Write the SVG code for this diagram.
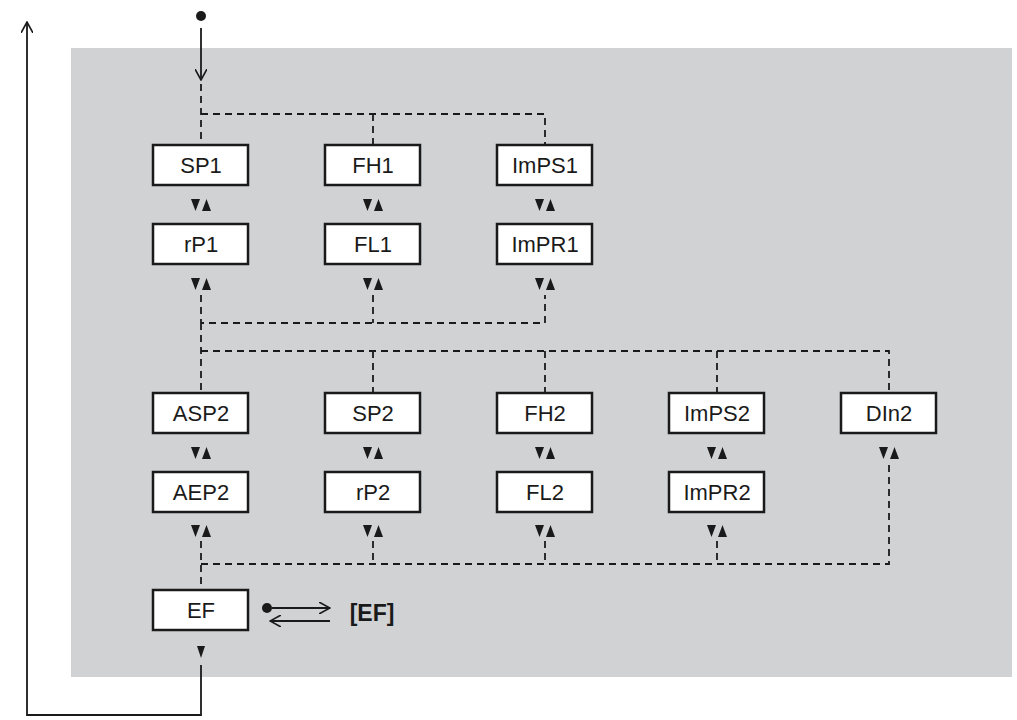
<svg xmlns="http://www.w3.org/2000/svg" width="1017" height="720" viewBox="0 0 1017 720">
<style>
.b{fill:#fff;stroke:#1a1a1a;stroke-width:2.5}
.t{font-family:"Liberation Sans",Arial,sans-serif;font-size:22px;fill:#1a1a1a;text-anchor:middle}
.d{fill:none;stroke:#1a1a1a;stroke-width:1.8;stroke-dasharray:7,5}
.s{fill:none;stroke:#1a1a1a;stroke-width:1.8}
.tr{fill:#1a1a1a}
</style>
<defs>
<marker id="a" markerWidth="12" markerHeight="12" refX="11" refY="6" orient="auto" markerUnits="userSpaceOnUse"><path d="M0,0 L11,6 L0,12" fill="none" stroke="#1a1a1a" stroke-width="1.6"/></marker>
<g id="ud"><path d="M-10,-6 L-1,-6 L-5.5,6Z M1,6 L10,6 L5.5,-6Z" class="tr"/></g>
</defs>
<rect x="71" y="48" width="941" height="629" fill="#d1d2d4"/>
<g id="connectors">
<circle cx="201" cy="16" r="5" fill="#1a1a1a"/>
<line x1="201" y1="28" x2="201" y2="80" class="s" marker-end="url(#a)"/>
<path d="M201,84 V145 M201,114 H545 V145 M373,114 V145" class="d"/>
<path d="M201,295 V323 H545 V295 M373,295 V323 M201,323 V393 M201,351 H889 V393 M373,351 V393 M545,351 V393 M717,351 V393" class="d"/>
<path d="M201,541 V590 M201,564 H889 V463 M373,541 V564 M545,541 V564 M717,541 V564" class="d"/>
<path d="M201,665 V715 H27 V22" class="s" marker-end="url(#a)"/>
<circle cx="267" cy="608" r="5" fill="#1a1a1a"/>
<line x1="272" y1="608" x2="330" y2="608" class="s" marker-end="url(#a)"/>
<line x1="330" y1="621" x2="270" y2="621" class="s" marker-end="url(#a)"/>
<use href="#ud" x="201" y="205"/><use href="#ud" x="373" y="205"/><use href="#ud" x="545" y="205"/>
<use href="#ud" x="201" y="284"/><use href="#ud" x="373" y="284"/><use href="#ud" x="545" y="284"/>
<use href="#ud" x="201" y="453"/><use href="#ud" x="373" y="453"/><use href="#ud" x="545" y="453"/><use href="#ud" x="717" y="453"/><use href="#ud" x="889" y="453"/>
<use href="#ud" x="201" y="531"/><use href="#ud" x="373" y="531"/><use href="#ud" x="545" y="531"/><use href="#ud" x="717" y="531"/>
<path d="M197,646 L205,646 L201,658Z" class="tr"/>
</g>
<g id="n-SP1"><rect class="b" x="153" y="145" width="95" height="40"/><text class="t" x="201" y="173">SP1</text></g>
<g id="n-FH1"><rect class="b" x="325" y="145" width="95" height="40"/><text class="t" x="373" y="173">FH1</text></g>
<g id="n-ImPS1"><rect class="b" x="497" y="145" width="95" height="40"/><text class="t" x="545" y="173">ImPS1</text></g>
<g id="n-rP1"><rect class="b" x="153" y="224" width="95" height="40"/><text class="t" x="201" y="252">rP1</text></g>
<g id="n-FL1"><rect class="b" x="325" y="224" width="95" height="40"/><text class="t" x="373" y="252">FL1</text></g>
<g id="n-ImPR1"><rect class="b" x="497" y="224" width="95" height="40"/><text class="t" x="545" y="252">ImPR1</text></g>
<g id="n-ASP2"><rect class="b" x="153" y="393" width="95" height="40"/><text class="t" x="201" y="421">ASP2</text></g>
<g id="n-SP2"><rect class="b" x="325" y="393" width="95" height="40"/><text class="t" x="373" y="421">SP2</text></g>
<g id="n-FH2"><rect class="b" x="497" y="393" width="95" height="40"/><text class="t" x="545" y="421">FH2</text></g>
<g id="n-ImPS2"><rect class="b" x="669" y="393" width="95" height="40"/><text class="t" x="717" y="421">ImPS2</text></g>
<g id="n-DIn2"><rect class="b" x="841" y="393" width="95" height="40"/><text class="t" x="889" y="421">DIn2</text></g>
<g id="n-AEP2"><rect class="b" x="153" y="472" width="95" height="40"/><text class="t" x="201" y="500">AEP2</text></g>
<g id="n-rP2"><rect class="b" x="325" y="472" width="95" height="40"/><text class="t" x="373" y="500">rP2</text></g>
<g id="n-FL2"><rect class="b" x="497" y="472" width="95" height="40"/><text class="t" x="545" y="500">FL2</text></g>
<g id="n-ImPR2"><rect class="b" x="669" y="472" width="95" height="40"/><text class="t" x="717" y="500">ImPR2</text></g>
<g id="n-EF"><rect class="b" x="153" y="590" width="95" height="40"/><text class="t" x="201" y="618">EF</text></g>
<g id="n-EFsub"><text class="t" x="372" y="621" style="font-weight:bold;font-size:23px">[EF]</text></g>
</svg>
